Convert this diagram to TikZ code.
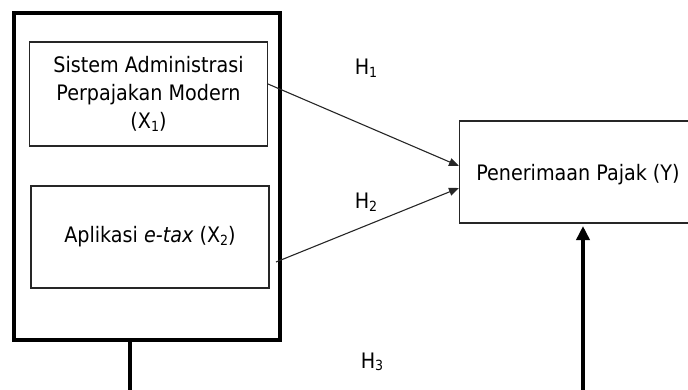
\documentclass[tikz,border=0pt]{standalone}
\usepackage{fontspec}
\setmainfont{DejaVu Sans Condensed}
\usetikzlibrary{arrows.meta}
\newcommand\subdig[1]{\raisebox{-0.12em}{\fontsize{14}{14}\selectfont #1}}
\tikzset{
  varbox/.style={draw, line width=1.2pt, draw=black!85, inner sep=0pt, align=center, font=\fontsize{21.3}{28}\selectfont},
  thinarrow/.style={line width=1.1pt, draw=black!85, -{Triangle[length=10pt,width=8pt]}},
  thickline/.style={line width=4.5pt},
  hlabel/.style={font=\fontsize{21.3}{24}\selectfont, inner sep=0pt}
}
\begin{document}
\begin{tikzpicture}[x=1pt,y=-1pt]
\useasboundingbox (0,0) rectangle (688,389);
\clip (0,0) rectangle (688,389);
% outer group box
\node[draw, line width=4.5pt, minimum width=266pt, minimum height=327pt, inner sep=0pt] (grp) at (147,176.5) {};
% X1
\node[varbox, minimum width=238pt, minimum height=104pt] (x1) at (148.5,94) {Sistem Administrasi\\Perpajakan Modern\\(X\subdig{1})};
% X2
\node[varbox, minimum width=238pt, minimum height=102pt] (x2) at (150,237) {Aplikasi \textit{e-tax} (X\subdig{2})};
% Y
\node[varbox, minimum width=260pt, minimum height=102pt, anchor=west] (y) at (459,172) {};
\node[font=\fontsize{21.3}{28}\selectfont, inner sep=0pt] (ytext) at (578,175) {Penerimaan Pajak (Y)};
% labels
\node[hlabel] (h1) at (366,68) {H\subdig{1}};
\node[hlabel] (h2) at (366,202) {H\subdig{2}};
\node[hlabel] (h3) at (372,362) {H\subdig{3}};
% arrows
\coordinate (a1) at (268,84);
\coordinate (a2) at (276,262);
\draw[thinarrow] (a1) -- (y.west |- 0,166);
\draw[thinarrow] (a2) -- (y.west |- 0,188);
% bottom connectors
\coordinate (b1) at (130,395);
\coordinate (b2) at (583,395);
\draw[thickline] (grp.south -| b1) -- (b1);
\draw[thickline, -{Triangle[length=14pt,width=13pt]}] (b2) -- (583,226);
\end{tikzpicture}
\end{document}
